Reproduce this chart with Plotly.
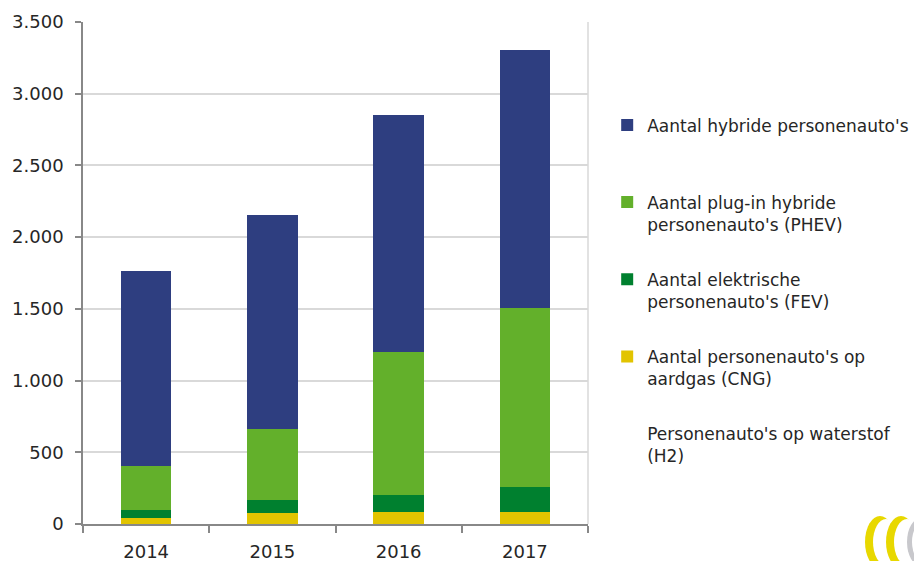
import plotly.graph_objects as go

years = ["2014", "2015", "2016", "2017"]
cng = [40, 75, 86, 86]
fev = [55, 92, 116, 172]
phev = [307, 498, 997, 1246]
hybride = [1364, 1490, 1651, 1799]
h2 = [0, 0, 0, 0]

names = [
    "Personenauto's op waterstof<br>(H2)",
    "Aantal personenauto's op<br>aardgas (CNG)",
    "Aantal elektrische<br>personenauto's (FEV)",
    "Aantal plug-in hybride<br>personenauto's (PHEV)",
    "Aantal hybride personenauto's<br>&nbsp;",
]
series = [h2, cng, fev, phev, hybride]
colors = ["rgba(255,255,255,0)", "#E2C400", "#00802F", "#63B02B", "#2E3E80"]

fig = go.Figure()
for i, (nm, vals, col) in enumerate(zip(names, series, colors)):
    fig.add_trace(go.Bar(
        x=years, y=vals, name=nm, marker=dict(color=col, line=dict(width=0)),
        legendgroup=f"g{len(names) - i}", legendrank=len(names) - i,
    ))

L, R, T, B = 83, 326, 22, 37
W, H = 914, 561
pw, ph = W - L - R, H - T - B

def px(x):
    return (x - L) / pw

def py(y):
    return (H - B - y) / ph

shapes = [
    dict(type="line", xref="paper", yref="paper", x0=1, x1=1, y0=0, y1=1,
         line=dict(color="#D9D9D9", width=1.5)),
]
# decorative logo (bottom right)
for x0 in (865, 886):
    shapes.append(dict(type="circle", xref="paper", yref="paper",
                       x0=px(x0), x1=px(x0 + 30), y0=py(568), y1=py(516),
                       fillcolor="#E8D800", line=dict(width=0), layer="above"))
    shapes.append(dict(type="circle", xref="paper", yref="paper",
                       x0=px(x0 + 8), x1=px(x0 + 34), y0=py(565), y1=py(519),
                       fillcolor="white", line=dict(width=0), layer="above"))
shapes.append(dict(type="circle", xref="paper", yref="paper",
                   x0=px(907), x1=px(935), y0=py(566), y1=py(518),
                   fillcolor="#C8C8CC", line=dict(width=0), layer="above"))
shapes.append(dict(type="circle", xref="paper", yref="paper",
                   x0=px(912), x1=px(940), y0=py(564), y1=py(520),
                   fillcolor="white", line=dict(width=0), layer="above"))

fig.update_layout(
    width=W, height=H,
    margin=dict(l=L, r=R, t=T, b=B, autoexpand=False),
    barmode="stack",
    bargap=0.6,
    separators=",.",
    plot_bgcolor="white",
    paper_bgcolor="white",
    font=dict(family="DejaVu Sans", size=18, color="#262626"),
    showlegend=True,
    legend=dict(
        x=1.038, xanchor="left", y=0.83, yanchor="top",
        traceorder="grouped", tracegroupgap=30, valign="top",
        font=dict(size=17, color="#262626"),
        itemclick=False, itemdoubleclick=False,
    ),
    xaxis=dict(
        showline=True, linecolor="#888888", linewidth=1.5,
        ticks="outside", tickson="boundaries", ticklen=7, tickcolor="#888888",
        tickwidth=1.5, showgrid=False, ticklabelstandoff=11,
    ),
    yaxis=dict(
        range=[0, 3500], dtick=500, tickformat=",d",
        showline=True, linecolor="#888888", linewidth=1.5,
        ticks="outside", ticklen=6, tickcolor="#888888", tickwidth=1.5,
        showgrid=True, gridcolor="#D9D9D9", gridwidth=1.5, zeroline=False,
        ticklabelstandoff=8,
    ),
    shapes=shapes,
)

fig.write_html("out.html", config={"displayModeBar": False})
with open("out.html", "r", encoding="utf-8") as f:
    html = f.read()
html = html.replace("<body>", "<body style=\"margin:0;overflow:hidden\">", 1)
with open("out.html", "w", encoding="utf-8") as f:
    f.write(html)
